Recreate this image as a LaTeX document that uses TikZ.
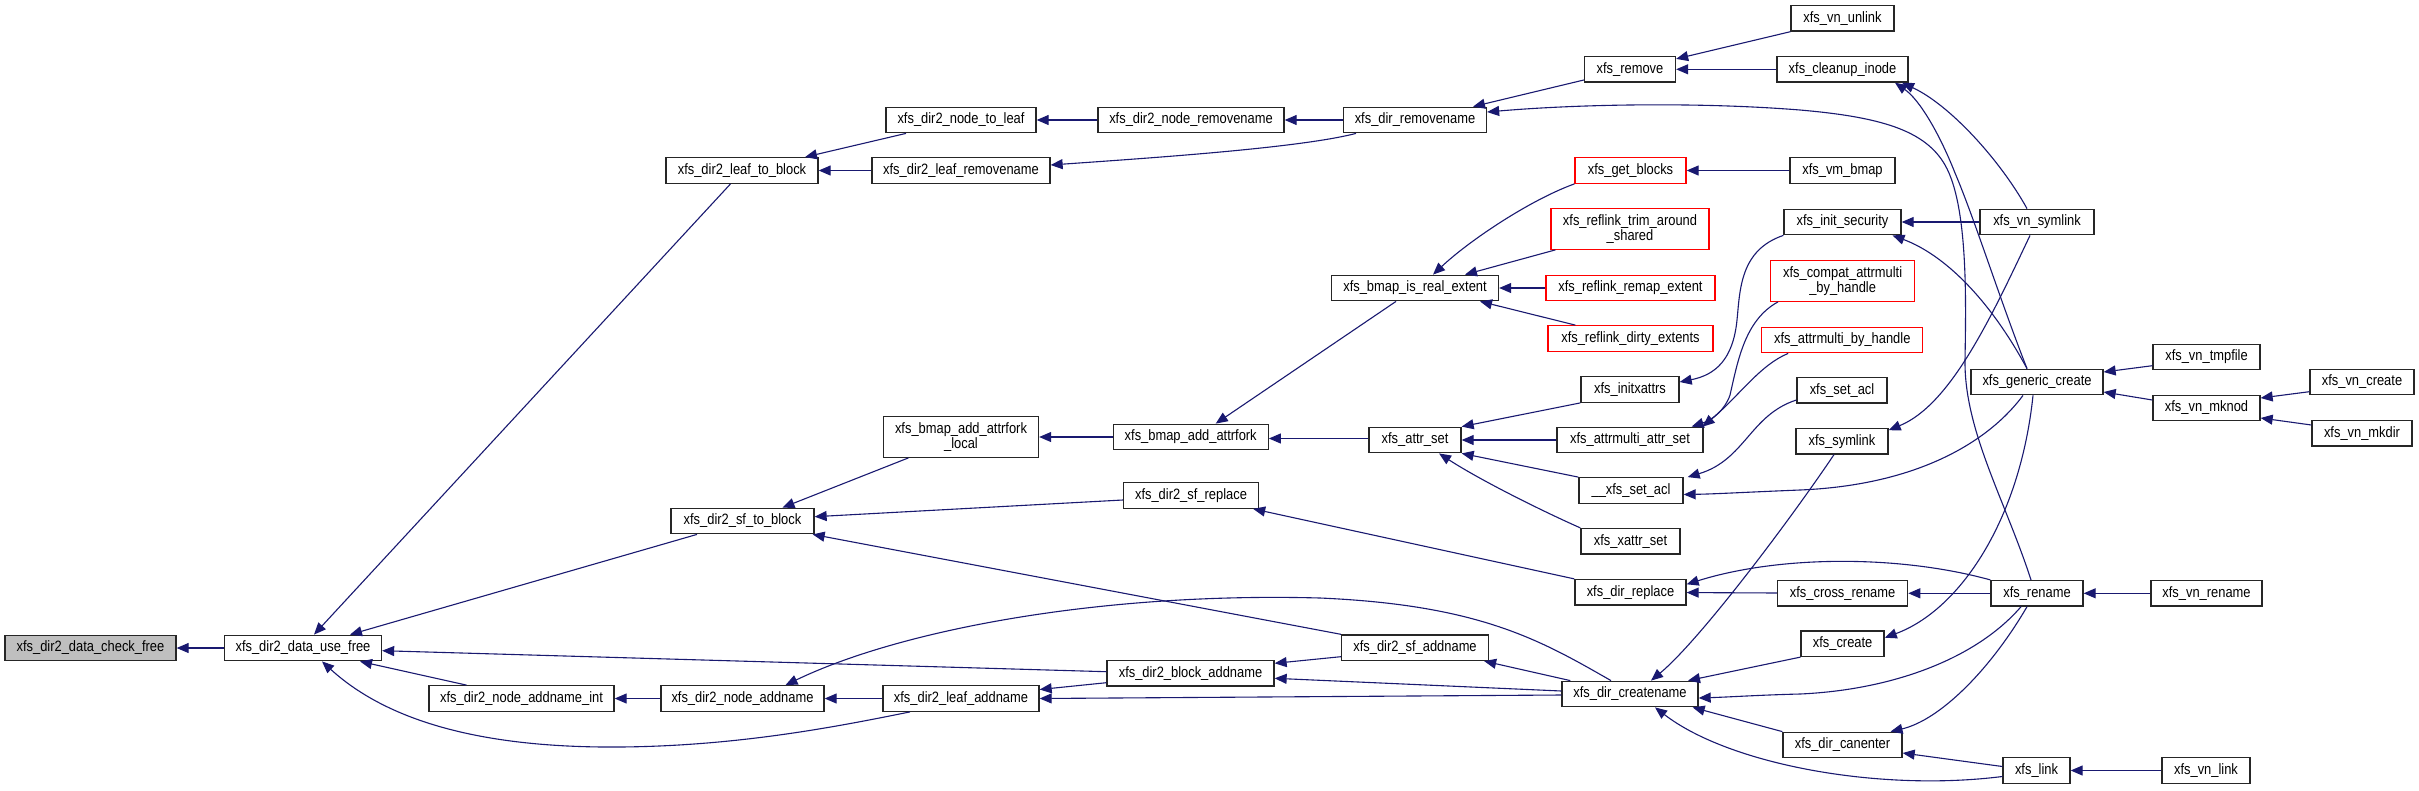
\documentclass[tikz,border=0pt]{standalone}
\usepackage{fontspec}
\setmainfont{Liberation Sans}
\newfontfamily\fnfamily{Liberation Sans}[FakeStretch=0.86]
\usetikzlibrary{arrows.meta}
\definecolor{edgeblue}{HTML}{191970}
\definecolor{rootgray}{HTML}{BFBFBF}
\newcommand{\fnfont}{\fnfamily\fontsize{15pt}{14.7pt}\selectfont}
\tikzset{
  fn/.style={draw=black!85, line width=1.3pt, fill=white, minimum height=25.5pt, inner sep=0pt, font=\fnfont, text=black, align=center},
  fnr/.style={fn, draw=red},
  two/.style={minimum height=40.5pt},
  arr/.style={draw=edgeblue, line width=1.1pt, {Triangle[length=12pt,width=10pt]}-}
}
\begin{document}
\begin{tikzpicture}[x=1pt,y=-1pt]
\useasboundingbox[fill=white] (0,0) rectangle (2419,790);
% column 1-2
\node[fn, fill=rootgray, minimum width=171pt] (checkfree) at (90.5,648) {xfs\_dir2\_data\_check\_free};
\node[fn, minimum width=157pt] (usefree) at (303,648) {xfs\_dir2\_data\_use\_free};
\node[fn, minimum width=185pt] (nodeaddnameint) at (521.5,698.5) {xfs\_dir2\_node\_addname\_int};
% column 3
\node[fn, minimum width=152pt] (leaftoblock) at (742,170.5) {xfs\_dir2\_leaf\_to\_block};
\node[fn, minimum width=143pt] (sftoblock) at (742.5,521) {xfs\_dir2\_sf\_to\_block};
\node[fn, minimum width=163pt] (nodeaddname) at (742.5,698.5) {xfs\_dir2\_node\_addname};
% column 4
\node[fn, minimum width=150pt] (nodetoleaf) at (961,120) {xfs\_dir2\_node\_to\_leaf};
\node[fn, minimum width=178pt] (leafremovename) at (961,170.5) {xfs\_dir2\_leaf\_removename};
\node[fn, two, minimum width=155pt] (attrforklocal) at (961,437) {xfs\_bmap\_add\_attrfork\\\_local};
\node[fn, minimum width=156pt] (leafaddname) at (961,698.5) {xfs\_dir2\_leaf\_addname};
% column 5
\node[fn, minimum width=186pt] (noderemovename) at (1191,120) {xfs\_dir2\_node\_removename};
\node[fn, minimum width=155pt] (attrfork) at (1190.7,437) {xfs\_bmap\_add\_attrfork};
\node[fn, minimum width=135pt] (sfreplace) at (1191,495.5) {xfs\_dir2\_sf\_replace};
\node[fn, minimum width=167pt] (blockaddname) at (1190.5,673.3) {xfs\_dir2\_block\_addname};
% column 6
\node[fn, minimum width=143pt] (dirremovename) at (1415,120) {xfs\_dir\_removename};
\node[fn, minimum width=167pt] (isrealextent) at (1415,288) {xfs\_bmap\_is\_real\_extent};
\node[fn, minimum width=92pt] (attrset) at (1415,440) {xfs\_attr\_set};
\node[fn, minimum width=147pt] (sfaddname) at (1415,647.7) {xfs\_dir2\_sf\_addname};
% column 7
\node[fn, minimum width=91pt] (xfsremove) at (1630,69.3) {xfs\_remove};
\node[fnr, minimum width=111pt] (getblocks) at (1630.5,170.5) {xfs\_get\_blocks};
\node[fnr, two, minimum width=158pt] (trim) at (1630,229) {xfs\_reflink\_trim\_around\\\_shared};
\node[fnr, minimum width=169pt] (remap) at (1630.5,288) {xfs\_reflink\_remap\_extent};
\node[fnr, minimum width=165pt] (dirty) at (1630.5,338.5) {xfs\_reflink\_dirty\_extents};
\node[fn, minimum width=98pt] (initxattrs) at (1630,389.5) {xfs\_initxattrs};
\node[fn, minimum width=146pt] (attrmultiattrset) at (1630,440) {xfs\_attrmulti\_attr\_set};
\node[fn, minimum width=104pt] (setaclu) at (1631,490.5) {\_\_xfs\_set\_acl};
\node[fn, minimum width=99pt] (xattrset) at (1630.5,541.3) {xfs\_xattr\_set};
\node[fn, minimum width=111pt] (dirreplace) at (1630.5,592.3) {xfs\_dir\_replace};
\node[fn, minimum width=136pt] (dircreatename) at (1630,694) {xfs\_dir\_createname};
% column 8
\node[fn, minimum width=103pt] (vnunlink) at (1842.5,18.3) {xfs\_vn\_unlink};
\node[fn, minimum width=131pt] (cleanupinode) at (1842.5,69.3) {xfs\_cleanup\_inode};
\node[fn, minimum width=105pt] (vmbmap) at (1842.5,170.5) {xfs\_vm\_bmap};
\node[fn, minimum width=117pt] (initsecurity) at (1842.5,222) {xfs\_init\_security};
\node[fnr, two, minimum width=144pt] (compat) at (1842.6,281) {xfs\_compat\_attrmulti\\\_by\_handle};
\node[fnr, minimum width=161pt] (byhandle) at (1842.3,340) {xfs\_attrmulti\_by\_handle};
\node[fn, minimum width=90pt] (setacl) at (1842,390.3) {xfs\_set\_acl};
\node[fn, minimum width=92pt] (symlink) at (1842,441.2) {xfs\_symlink};
\node[fn, minimum width=130pt] (crossrename) at (1842.6,593.3) {xfs\_cross\_rename};
\node[fn, minimum width=83pt] (xfscreate) at (1842.6,643.7) {xfs\_create};
\node[fn, minimum width=119pt] (canenter) at (1842.5,745) {xfs\_dir\_canenter};
% column 9
\node[fn, minimum width=114pt] (vnsymlink) at (2037,222) {xfs\_vn\_symlink};
\node[fn, minimum width=132pt] (genericcreate) at (2037,382) {xfs\_generic\_create};
\node[fn, minimum width=92pt] (rename) at (2037,593.3) {xfs\_rename};
\node[fn, minimum width=67pt] (link) at (2036.5,770.5) {xfs\_link};
% column 10
\node[fn, minimum width=107pt] (vntmpfile) at (2206.5,357) {xfs\_vn\_tmpfile};
\node[fn, minimum width=107pt] (vnmknod) at (2206.5,408) {xfs\_vn\_mknod};
\node[fn, minimum width=111pt] (vnrename) at (2206.5,593.3) {xfs\_vn\_rename};
\node[fn, minimum width=88pt] (vnlink) at (2206,770.5) {xfs\_vn\_link};
% column 11
\node[fn, minimum width=104pt] (vncreate) at (2362,382) {xfs\_vn\_create};
\node[fn, minimum width=100pt] (vnmkdir) at (2362,433.3) {xfs\_vn\_mkdir};

% edges
\draw[arr] (checkfree) -- (usefree);
\draw[arr] ([xshift=11pt]usefree.north) -- ([xshift=-11.5pt]leaftoblock.south);
\draw[arr] ([xshift=47pt]usefree.north) -- ([xshift=-45.5pt]sftoblock.south);
\draw[arr] ([yshift=-2.7pt]usefree.east) -- ([yshift=1.6pt]blockaddname.west);
\draw[arr] ([xshift=57pt]usefree.south) -- ([xshift=-55pt]nodeaddnameint.north);
\draw[arr] ([xshift=19pt]usefree.south) .. controls (395,728) and (500,748) .. (620,747) .. controls (740,746) and (840,726) .. ([xshift=-51pt]leafaddname.south);
\draw[arr] ([xshift=63pt]leaftoblock.north) -- ([xshift=-55pt]nodetoleaf.south);
\draw[arr] (leaftoblock) -- (leafremovename);
\draw[arr] (nodetoleaf) -- (noderemovename);
\draw[arr] (noderemovename) -- (dirremovename);
\draw[arr] ([yshift=5.5pt]leafremovename.east) .. controls (1150,158) and (1300,148) .. ([xshift=-59pt]dirremovename.south);
\draw[arr] ([xshift=58pt]dirremovename.north) -- ([yshift=-10.7pt]xfsremove.west);
\draw[arr] ([yshift=8pt]dirremovename.east) .. controls (1580,104) and (1700,102) .. (1800,110) .. controls (1880,117) and (1925,130) .. (1945,165) .. controls (1968,205) and (1966,300) .. (1965,360) .. controls (1964,430) and (2005,500) .. ([xshift=-6pt]rename.north);
\draw[arr] ([yshift=-3pt]xfsremove.north east) -- (vnunlink.south west);
\draw[arr] (xfsremove) -- (cleanupinode);
\draw[arr] ([xshift=52.5pt]cleanupinode.south) .. controls (1920,100) and (1940,135) .. (1955,173) .. controls (1975,220) and (2000,300) .. ([xshift=-10pt]genericcreate.north);
\draw[arr] ([xshift=59.5pt]cleanupinode.south) .. controls (1950,105) and (2000,160) .. ([xshift=-10pt]vnsymlink.north);
\draw[arr] ([xshift=40pt]sftoblock.north) -- ([xshift=-52.6pt]attrforklocal.south);
\draw[arr] ([yshift=4.3pt]sftoblock.east) -- ([yshift=-4.5pt]sfreplace.west);
\draw[arr] ([xshift=-2pt]sftoblock.south east) -- (sfaddname.north west);
\draw[arr] (attrforklocal) -- (attrfork);
\draw[arr] ([xshift=25pt]attrfork.north) -- ([xshift=-19pt]isrealextent.south);
\draw[arr] ([yshift=-1.5pt]attrfork.east) -- ([yshift=1.5pt]attrset.west);
\draw[arr] ([xshift=18pt]isrealextent.north) .. controls (1470,240) and (1530,200) .. (getblocks.south west);
\draw[arr] ([xshift=50pt]isrealextent.north) -- ([xshift=5pt]trim.south west);
\draw[arr] (isrealextent) -- (remap);
\draw[arr] ([xshift=65pt]isrealextent.south) -- ([xshift=28pt]dirty.north west);
\draw[arr] (getblocks) -- (vmbmap);
\draw[arr] (attrset.north east) -- (initxattrs.south west);
\draw[arr] (attrset) -- (attrmultiattrset);
\draw[arr] (attrset.south east) -- (setaclu.north west);
\draw[arr] ([xshift=24pt]attrset.south) .. controls (1480,480) and (1540,510) .. (xattrset.north west);
\draw[arr] ([yshift=7.5pt]initxattrs.east) .. controls (1715,375) and (1733,360) .. (1737,320) .. controls (1740,290) and (1740,250) .. (initsecurity.south west);
\draw[arr] ([xshift=-12pt]attrmultiattrset.north east) .. controls (1712,420) and (1725,410) .. (1730,395) .. controls (1738,360) and (1745,320) .. ([xshift=8pt]compat.south west);
\draw[arr] ([xshift=-1pt]attrmultiattrset.north east) .. controls (1740,395) and (1760,365) .. ([xshift=27pt]byhandle.south west);
\draw[arr] ([xshift=4pt]setaclu.north east) .. controls (1745,460) and (1750,415) .. ([yshift=-9.7pt]setacl.west);
\draw[arr] ([yshift=-4pt]setaclu.east) .. controls (1715,494) and (1750,492) .. (1800,490) .. controls (1920,485) and (1990,440) .. ([xshift=-14pt]genericcreate.south);
\draw[arr] ([yshift=6pt]xfscreate.east) .. controls (1960,610) and (2020,520) .. ([xshift=-4pt]genericcreate.south);
\draw[arr] ([yshift=11pt]symlink.east) .. controls (1950,405) and (1990,320) .. ([xshift=-7pt]vnsymlink.south);
\draw[arr] ([xshift=21pt]dircreatename.north) .. controls (1700,640) and (1790,520) .. ([xshift=-8pt]symlink.south);
\draw[arr] ([xshift=58pt]dircreatename.north) -- (xfscreate.south west);
\draw[arr] ([yshift=-4pt]dircreatename.east) .. controls (1730,697) and (1760,695) .. (1800,694) .. controls (1890,690) and (1975,660) .. ([xshift=-16pt]rename.south);
\draw[arr] ([xshift=-6pt]dircreatename.south east) -- (canenter.north west);
\draw[arr] ([xshift=25pt]dircreatename.south) .. controls (1730,765) and (1880,792) .. ([yshift=-6pt]link.west);
\draw[arr] ([xshift=48pt]canenter.north) .. controls (1940,720) and (1990,670) .. ([xshift=-10pt]rename.south);
\draw[arr] ([yshift=-8pt]canenter.east) -- ([yshift=4pt]link.west);
\draw[arr] (link) -- (vnlink);
\draw[arr] (rename) -- (vnrename);
\draw[arr] (crossrename) -- (rename);
\draw[arr] ([yshift=8pt]dirreplace.east) .. controls (1780,555) and (1900,555) .. (rename.north west);
\draw[arr] (dirreplace) -- (crossrename);
\draw[arr] ([xshift=-6pt]sfreplace.south east) -- (dirreplace.north west);
\draw[arr] (initsecurity) -- (vnsymlink);
\draw[arr] ([xshift=50pt]initsecurity.south) .. controls (1945,255) and (1990,300) .. ([xshift=-10pt]genericcreate.north);
\draw[arr] ([yshift=10pt]genericcreate.east) -- ([yshift=-8.7pt]vntmpfile.west);
\draw[arr] ([yshift=-10pt]genericcreate.east) -- ([yshift=8pt]vnmknod.west);
\draw[arr] ([yshift=10pt]vnmknod.east) -- ([yshift=-9.7pt]vncreate.west);
\draw[arr] ([yshift=-10pt]vnmknod.east) -- ([yshift=8.3pt]vnmkdir.west);
\draw[arr] ([xshift=43pt]nodeaddname.north) .. controls (900,630) and (1100,592) .. (1320,598) .. controls (1480,605) and (1540,640) .. ([xshift=-19pt]dircreatename.north);
\draw[arr] ([xshift=-5pt]sfaddname.south east) -- ([xshift=9pt]dircreatename.north west);
\draw[arr] ([yshift=-5pt]blockaddname.east) -- ([yshift=3pt]dircreatename.west);
\draw[arr] (leafaddname.east) -- ([yshift=-1pt]dircreatename.west);
\draw[arr] ([yshift=10pt]blockaddname.east) -- ([yshift=-9pt]sfaddname.west);
\draw[arr] ([yshift=9pt]leafaddname.east) -- ([yshift=-9.4pt]blockaddname.west);
\draw[arr] (nodeaddname) -- (leafaddname);
\draw[arr] (nodeaddnameint) -- (nodeaddname);
\end{tikzpicture}
\end{document}
